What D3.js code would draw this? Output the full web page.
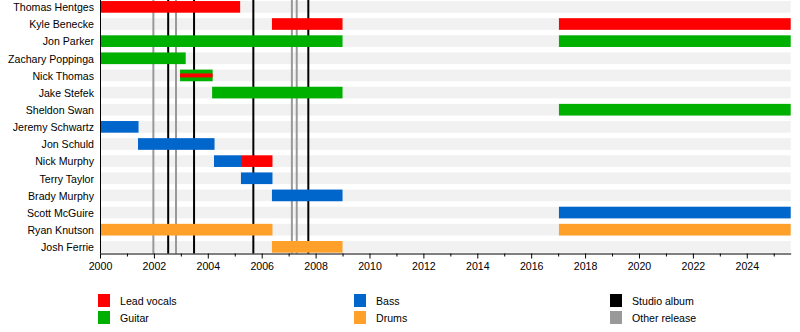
<!DOCTYPE html>
<html><head><meta charset="utf-8">
<script src="https://cdn.jsdelivr.net/npm/d3@7"></script>
<style>
html,body{margin:0;padding:0;background:#fff;}
svg{display:block;}
text{font-family:"Liberation Sans",Arial,Helvetica,sans-serif;fill:#000;}
</style></head>
<body>
<svg id="chart" width="800" height="332"></svg>
<script>
const members = ["Thomas Hentges","Kyle Benecke","Jon Parker","Zachary Poppinga","Nick Thomas","Jake Stefek","Sheldon Swan","Jeremy Schwartz","Jon Schuld","Nick Murphy","Terry Taylor","Brady Murphy","Scott McGuire","Ryan Knutson","Josh Ferrie"];
const roles = ["Lead vocals","Guitar","Bass","Drums"];
const roleColors = ["#ff0000","#00b000","#0066cc","#ffa02a"];
const startYear = 2000;
const endYear = 2025.63;
// [member, role, start, end]
const periods = [
  ["Thomas Hentges","Lead vocals",2000,2005.2],
  ["Kyle Benecke","Lead vocals",2006.38,2009.0],
  ["Kyle Benecke","Lead vocals",2017.03,2025.63],
  ["Jon Parker","Guitar",2000,2009.0],
  ["Jon Parker","Guitar",2017.03,2025.63],
  ["Zachary Poppinga","Guitar",2000,2003.18],
  ["Nick Thomas","Guitar",2002.97,2004.18],
  ["Jake Stefek","Guitar",2004.16,2009.0],
  ["Sheldon Swan","Guitar",2017.03,2025.63],
  ["Jeremy Schwartz","Bass",2000,2001.43],
  ["Jon Schuld","Bass",2001.41,2004.25],
  ["Nick Murphy","Bass",2004.23,2005.27],
  ["Nick Murphy","Lead vocals",2005.27,2006.4],
  ["Terry Taylor","Bass",2005.23,2006.4],
  ["Brady Murphy","Bass",2006.38,2009.0],
  ["Scott McGuire","Bass",2017.03,2025.63],
  ["Ryan Knutson","Drums",2000,2006.4],
  ["Ryan Knutson","Drums",2017.03,2025.63],
  ["Josh Ferrie","Drums",2006.38,2009.0]
];
// secondary role stripes drawn inside a bar
const stripes = [
  ["Nick Thomas","Lead vocals",2002.97,2004.18]
];
const studioAlbums = [2002.53,2003.49,2005.69,2007.73];
const otherReleases = [2001.98,2002.82,2007.12,2007.30];
const legendItems = ["Lead vocals","Guitar","Bass","Drums","Studio album","Other release"];
const legendColors = ["#ff0000","#00b000","#0066cc","#ffa02a","#000000","#999999"];
const majorTicks = d3.range(2000,2025,2);
const minorTicks = d3.range(2001,2026,2);

const svg = d3.select("#chart");
const x = d3.scaleLinear().domain([startYear,endYear]).range([100,790.7]);
const y = d3.scaleBand().domain(members).range([-1.7,255.4]).paddingInner(0.32).paddingOuter(0.16);
const color = d3.scaleOrdinal().domain(roles).range(roleColors);
const axisY = 253.5;

// background stripes
svg.append("g").selectAll("rect").data(members).join("rect")
  .attr("x",x(startYear)).attr("width",x(endYear)-x(startYear))
  .attr("y",d=>y(d)).attr("height",y.bandwidth())
  .attr("fill","#f1f1f1");

// release lines
svg.append("g").selectAll("line").data(otherReleases).join("line")
  .attr("x1",d=>x(d)).attr("x2",d=>x(d)).attr("y1",0).attr("y2",axisY)
  .attr("stroke","#999999").attr("stroke-width",2);
svg.append("g").selectAll("line").data(studioAlbums).join("line")
  .attr("x1",d=>x(d)).attr("x2",d=>x(d)).attr("y1",0).attr("y2",axisY)
  .attr("stroke","#000").attr("stroke-width",2);

// bars
svg.append("g").selectAll("rect").data(periods).join("rect")
  .attr("x",d=>x(d[2])).attr("width",d=>x(d[3])-x(d[2]))
  .attr("y",d=>y(d[0])).attr("height",y.bandwidth())
  .attr("fill",d=>color(d[1]));
svg.append("g").selectAll("rect").data(stripes).join("rect")
  .attr("x",d=>x(d[2])).attr("width",d=>x(d[3])-x(d[2]))
  .attr("y",d=>y(d[0])+y.bandwidth()*0.33).attr("height",y.bandwidth()*0.34)
  .attr("fill",d=>color(d[1]));

// member labels
svg.append("g").selectAll("text").data(members).join("text")
  .attr("x",94).attr("y",d=>y(d)+y.bandwidth()/2+0.5)
  .attr("dy","0.36em").attr("text-anchor","end")
  .style("font-size","10.6px").text(d=>d);

// left axis line
svg.append("line").attr("x1",100.5).attr("x2",100.5).attr("y1",0).attr("y2",axisY)
  .attr("stroke","#000").attr("stroke-width",1);

// bottom axis
const gx = svg.append("g").attr("transform",`translate(0,${axisY})`);
gx.call(d3.axisBottom(x).tickValues(majorTicks).tickFormat(d3.format("d")).tickSize(5).tickSizeOuter(0));
gx.select(".domain").attr("stroke","#000");
gx.selectAll(".tick text").style("font-size","10.6px").style("font-family","'Liberation Sans',Arial,sans-serif").attr("y",9);
const gm = svg.append("g").attr("transform",`translate(0,${axisY})`);
gm.selectAll("line").data(minorTicks).join("line")
  .attr("x1",d=>x(d)+0.5).attr("x2",d=>x(d)+0.5).attr("y1",0).attr("y2",3)
  .attr("stroke","#000");

// legend
const legX = [98,98,354,354,610,610];
const legY = [294,311,294,311,294,311];
const lg = svg.append("g").selectAll("g").data(legendItems).join("g")
  .attr("transform",(d,i)=>`translate(${legX[i]},${legY[i]})`);
lg.append("rect").attr("width",12).attr("height",13).attr("fill",(d,i)=>legendColors[i]);
lg.append("text").attr("x",22).attr("y",7).attr("dy","0.36em")
  .style("font-size","10.6px").text(d=>d);
</script>
</body></html>
